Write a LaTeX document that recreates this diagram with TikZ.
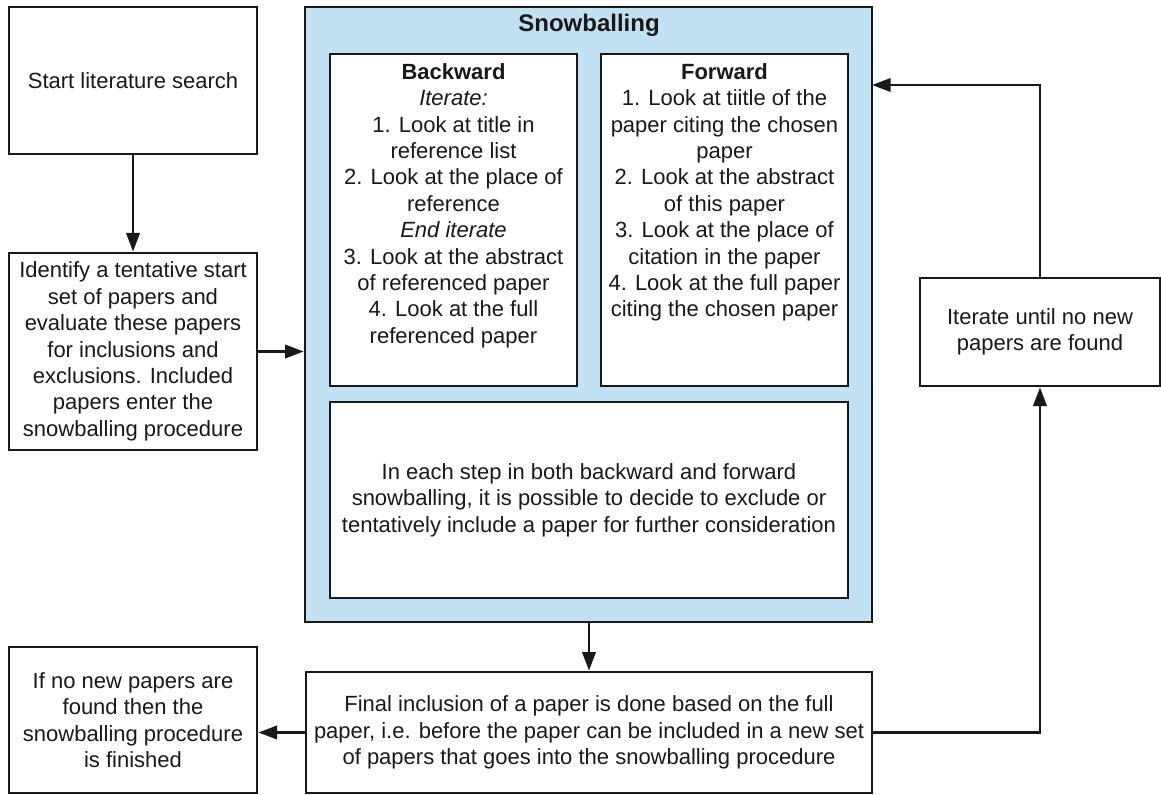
\documentclass[tikz,border=0pt]{standalone}
\usepackage{fontspec}
\setmainfont{Liberation Sans}
\usetikzlibrary{arrows.meta}
\definecolor{snowblue}{RGB}{194,225,243}
\definecolor{ink}{RGB}{25,25,25}

\begin{document}
\begin{tikzpicture}[x=0.75pt,y=-0.75pt,
  box/.style={draw=ink, line width=2pt, fill=white, inner sep=0pt},
  txt/.style={text=ink, align=center, inner sep=0pt,
    font=\fontsize{16.5}{19.8}\selectfont},
  flow/.style={draw=ink, line width=2pt, -{Triangle[length=14pt,width=10pt]}},
]
\useasboundingbox (0,0) rectangle (1161,795);

% left column
\node (start) [box, txt, minimum width=186pt, minimum height=110.25pt] at (133,80.5)
  {Start literature search};
\node (ident) [box, txt, minimum width=186pt, minimum height=147.75pt] at (133,351.5)
  {Identify a tentative start\\set of papers and\\evaluate these papers\\for inclusions and\\exclusions. Included\\papers enter the\\snowballing procedure};
\node (done) [box, txt, minimum width=186pt, minimum height=109.5pt] at (133,720)
  {If no new papers are\\found then the\\snowballing procedure\\is finished};

% snowballing container
\node (snow) [box, fill=snowblue, minimum width=425.25pt, minimum height=461.25pt] at (588.5,314.5) {};
\node (title) [txt, font=\fontsize{18}{21}\selectfont\bfseries] at (589,25) {Snowballing};

\node (back) [box, minimum width=185.25pt, minimum height=249pt] at (453.5,220) {};
\node (backtext) [txt, anchor=north] at (453.5,63)
  {\textbf{Backward}\\\textit{Iterate:}\\1. Look at title in\\reference list\\2. Look at the place of\\reference\\\textit{End iterate}\\3. Look at the abstract\\of referenced paper\\4. Look at the full\\referenced paper};

\node (fwd) [box, minimum width=185.25pt, minimum height=249pt] at (724.5,220) {};
\node (fwdtext) [txt, anchor=north] at (724.5,63)
  {\textbf{Forward}\\1. Look at tiitle of the\\paper citing the chosen\\paper\\2. Look at the abstract\\of this paper\\3. Look at the place of\\citation in the paper\\4. Look at the full paper\\citing the chosen paper};

\node (each) [box, txt, minimum width=388.5pt, minimum height=147pt] at (589,500)
  {In each step in both backward and forward\\snowballing, it is possible to decide to exclude or\\tentatively include a paper for further consideration};

% final decision and iteration
\node (final) [box, txt, minimum width=424.5pt, minimum height=90.75pt] at (589,732.5)
  {Final inclusion of a paper is done based on the full\\paper, i.e. before the paper can be included in a new set\\of papers that goes into the snowballing procedure};
\node (iter) [box, txt, minimum width=180pt, minimum height=81pt] at (1040,332)
  {Iterate until no new\\papers are found};
\coordinate (reentry) at (872,85);

% connectors
\draw[flow] (start.south) -- (ident.north);
\draw[flow] (ident.east) -- (ident.east -| snow.west);
\draw[flow] (snow.south -| final.north) -- (final.north);
\draw[flow] (final.west) -- (final.west -| done.east);
\draw[flow] (final.east) -| (iter.south);
\draw[flow] (iter.north) |- (reentry);
\end{tikzpicture}
\end{document}
